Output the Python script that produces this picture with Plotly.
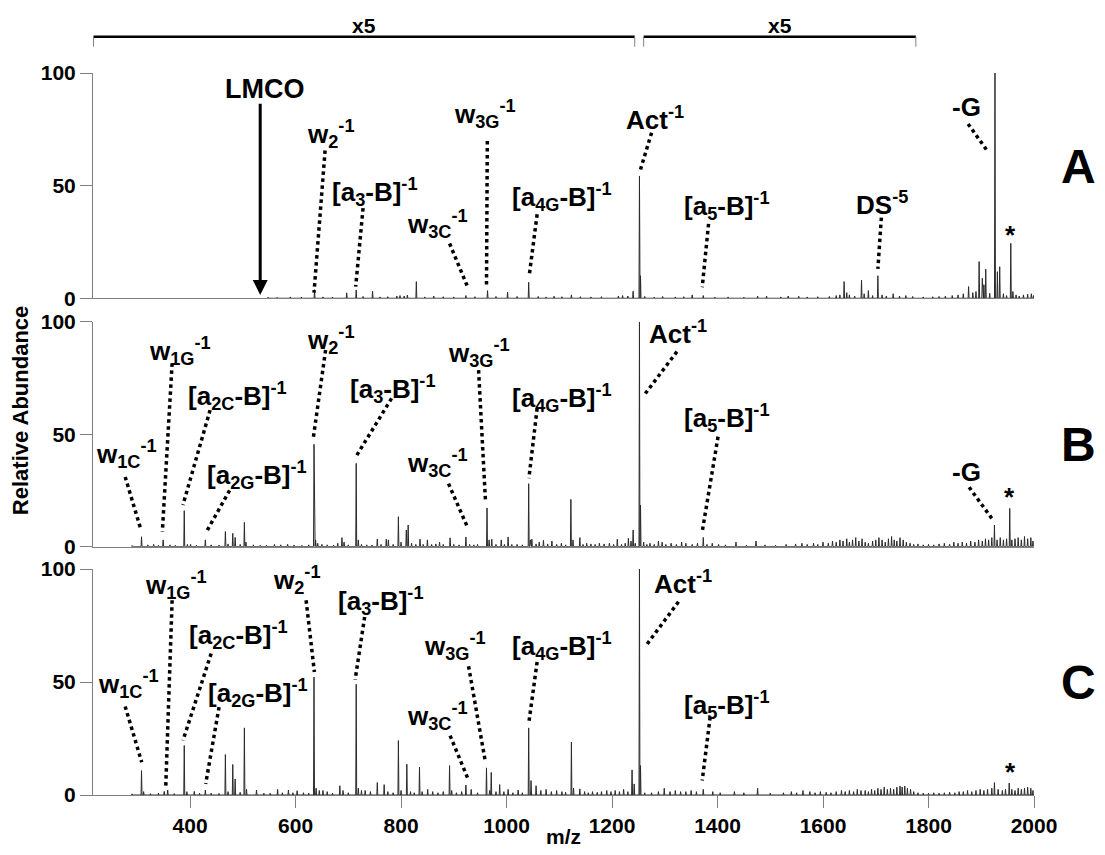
import plotly.graph_objects as go

# ---------------- data (m/z, relative abundance) ----------------
A_MZ = [548, 565, 590, 611, 636, 652, 670, 697, 715, 728, 746, 760, 775, 792, 798, 806, 812, 829, 845, 862,
        880, 900, 923, 940, 964, 980, 1002, 1020, 1042, 1060, 1075, 1090, 1105, 1123, 1140, 1160, 1180, 1212,
        1220, 1230, 1240, 1252, 1254, 1262, 1280, 1296, 1320, 1336, 1352, 1373, 1395, 1420, 1450, 1476, 1493,
        1520, 1534, 1554, 1570, 1590, 1612, 1625, 1632, 1640, 1645, 1650, 1660, 1673, 1678, 1686, 1694, 1704,
        1712, 1720, 1733, 1745, 1757, 1770, 1790, 1808, 1820, 1832, 1845, 1856, 1866, 1876, 1884, 1890, 1896,
        1902, 1905, 1908.5, 1916, 1926, 1930.6, 1935, 1942, 1948, 1956, 1960, 1966, 1972, 1980, 1988, 1995, 1999]
A_INT = [0.5, 0.4, 0.6, 0.5, 3.8, 0.6, 0.5, 2.4, 3.7, 0.8, 3.1, 0.6, 0.7, 1.0, 1.2, 1.0, 1.4, 7.4, 0.6, 1.0,
         0.7, 0.6, 1.2, 0.7, 3.4, 0.8, 2.7, 0.8, 7.1, 0.8, 0.6, 0.9, 0.7, 1.5, 0.7, 0.6, 0.7, 1.0,
         1.2, 1.0, 3.1, 54.3, 10.0, 0.8, 0.5, 0.8, 0.6, 0.7, 1.5, 1.2, 0.5, 0.6, 0.5, 1.0, 1.0,
         0.6, 1.0, 0.9, 0.6, 0.7, 0.8, 1.2, 1.5, 7.4, 2.5, 1.5, 1.0, 8.1, 2.0, 3.4, 1.2, 10.0,
         1.5, 1.0, 2.0, 1.0, 1.2, 0.8, 0.6, 0.7, 0.8, 1.0, 1.2, 1.5, 2.0, 5.2, 2.5, 3.0, 16.3,
         8.9, 6.0, 12.9, 2.2, 100.0, 11.8, 14.0, 2.0, 1.2, 24.4, 3.0, 1.5, 1.0, 1.5, 1.8, 2.0, 1.2]

B_MZ = [290, 308, 320, 331, 340, 349, 362, 372, 389, 395, 401, 412, 429, 440, 455, 467, 472, 481, 485.5, 495,
        503, 506, 520, 533, 545, 560, 572, 585, 597, 612, 625, 635, 638, 642, 650, 660, 672, 680, 688, 692,
        700, 715, 719, 725, 735, 745, 755, 762, 772, 776, 785, 795, 800, 810, 813.5, 820, 828, 836, 842, 850,
        858, 866, 873, 880, 893, 900, 910, 923, 930, 938, 945, 963, 967, 972, 980, 990, 996, 1003, 1010, 1020,
        1030, 1042, 1045, 1048, 1056, 1062, 1070, 1078, 1086, 1095, 1104, 1112, 1122, 1126, 1139, 1145, 1152,
        1160, 1168, 1176, 1185, 1195, 1203, 1210, 1218, 1225, 1231, 1236, 1240, 1244, 1252, 1254, 1260, 1266,
        1272, 1280, 1288, 1295, 1302, 1312, 1322, 1332, 1340, 1352, 1362, 1373, 1380, 1390, 1402, 1415, 1435,
        1455, 1473, 1490, 1510, 1530, 1548, 1560, 1570, 1582, 1590, 1600, 1610, 1618, 1625, 1632, 1638, 1645,
        1650, 1656, 1662, 1668, 1674, 1680, 1686, 1694, 1700, 1706, 1712, 1718, 1724, 1730, 1735, 1740, 1746,
        1752, 1758, 1765, 1772, 1780, 1790, 1800, 1810, 1820, 1830, 1840, 1848, 1856, 1864, 1872, 1880, 1888,
        1895, 1902, 1908, 1914, 1920, 1925, 1930, 1936, 1942, 1948, 1954, 1958, 1964, 1970, 1976, 1982, 1988,
        1994, 1998]
B_INT = [0.5, 4.4, 0.8, 1.0, 0.6, 3.0, 0.8, 0.6, 16.0, 1.0, 1.0, 0.6, 3.0, 0.8, 0.7, 6.7, 1.2, 5.9, 4.1, 1.0,
         10.8, 2.0, 0.8, 0.6, 0.7, 1.0, 0.8, 1.0, 0.7, 0.6, 0.8, 45.5, 3.0, 1.5, 1.0, 0.8, 0.7, 1.5, 4.0, 2.0,
         0.8, 37.0, 3.0, 1.0, 0.8, 0.7, 3.4, 1.0, 3.3, 3.0, 1.0, 13.3, 2.0, 7.4, 9.6, 1.5, 1.0, 3.3, 1.0, 3.0,
         1.0, 1.2, 2.0, 1.0, 3.9, 1.0, 0.8, 4.3, 1.0, 0.8, 1.0, 17.2, 3.0, 3.3, 1.0, 3.0, 1.0, 4.3, 1.0, 1.0,
         0.8, 28.0, 3.0, 3.3, 1.2, 2.0, 2.8, 1.2, 2.5, 1.0, 1.5, 0.8, 21.0, 3.0, 4.0, 1.0, 1.5,
         1.2, 1.0, 1.5, 1.2, 1.5, 1.0, 3.3, 1.0, 1.5, 3.7, 2.5, 7.4, 1.5, 100.0, 18.5, 2.0, 1.0,
         1.5, 1.0, 2.5, 2.0, 1.0, 1.5, 1.0, 2.0, 1.5, 1.0, 1.5, 4.1, 1.0, 1.5, 1.0, 0.8, 2.0,
         0.7, 2.5, 0.8, 0.6, 1.0, 1.2, 1.5, 1.0, 1.5, 1.0, 2.0, 1.5, 2.5, 2.0, 3.0, 2.5, 3.5,
         2.0, 3.0, 4.0, 2.5, 3.5, 2.0, 1.5, 2.5, 3.0, 4.0, 3.0, 2.0, 3.5, 4.5, 3.0, 2.5, 4.0,
         3.0, 2.0, 1.5, 1.0, 1.2, 0.8, 1.0, 0.8, 1.2, 1.5, 1.0, 2.0, 1.5, 2.0, 1.5, 2.5, 2.0,
         3.0, 2.5, 3.5, 3.0, 4.0, 9.6, 3.0, 4.0, 3.0, 3.5, 17.0, 3.0, 3.5, 4.0, 3.0, 4.5, 3.5,
         4.0, 2.5]

C_MZ = [290, 308, 312, 325, 340, 351, 357.6, 370, 389, 394, 408, 418, 429, 440, 455, 467, 472, 481, 485.5, 495,
        503, 507, 526, 540, 552, 566, 575, 586.5, 595, 603, 615, 625, 635, 639, 645, 652, 660, 670, 684, 690,
        700, 715, 719, 725, 732, 742, 755, 768, 775, 785, 795, 800, 811, 818, 825, 835, 840, 850.5, 860, 870,
        880, 892, 896, 905, 915, 923, 933, 945, 962, 968, 971, 980, 987, 995, 1003, 1012, 1022, 1030, 1042,
        1046.5, 1056, 1065, 1075, 1085, 1095, 1105, 1112, 1123, 1127, 1139, 1148, 1155, 1163, 1172, 1180, 1190,
        1198, 1206, 1214, 1222, 1230, 1238, 1242, 1252, 1254, 1262, 1275, 1288, 1299, 1310, 1320, 1330, 1340,
        1350, 1360, 1373, 1391, 1405, 1432, 1450, 1476, 1500, 1525, 1540, 1550, 1562, 1575, 1585, 1595, 1606,
        1615, 1625, 1635, 1642, 1650, 1658, 1665, 1672, 1680, 1686, 1692, 1698, 1704, 1710, 1716, 1722, 1728,
        1734, 1740, 1746, 1750, 1755, 1760, 1766, 1772, 1780, 1790, 1800, 1810, 1820, 1830, 1840, 1850, 1858,
        1866, 1874, 1882, 1890, 1898, 1905, 1912, 1920, 1925, 1932, 1940, 1946, 1953, 1958, 1964, 1970, 1976,
        1982, 1988, 1994, 1998]
C_INT = [0.5, 10.8, 1.5, 0.6, 0.8, 1.6, 2.2, 0.6, 21.9, 1.5, 1.6, 0.8, 2.2, 0.8, 0.7, 17.9, 1.5, 13.5, 7.1, 1.2,
         29.7, 2.5, 2.2, 0.8, 0.8, 2.5, 1.0, 2.2, 1.0, 1.9, 1.0, 0.8, 52.2, 3.0, 2.0, 2.0, 1.5, 0.8, 4.1, 2.0,
         1.0, 49.0, 3.0, 2.0, 2.0, 1.5, 5.5, 4.6, 1.5, 1.0, 24.1, 2.0, 13.6, 1.5, 1.0, 12.3, 1.5, 2.5, 1.5, 1.0,
         1.5, 13.0, 2.0, 1.0, 1.5, 4.4, 2.5, 1.0, 12.0, 2.0, 10.0, 1.5, 4.6, 1.5, 2.5, 1.0, 2.2, 1.0, 29.7,
         6.4, 4.1, 2.0, 2.5, 1.5, 2.0, 1.5, 1.2, 23.4, 3.0, 2.7, 1.5, 1.0, 1.5, 1.2, 1.5, 2.0,
         1.5, 2.0, 1.5, 2.5, 1.5, 11.1, 4.9, 100.0, 13.0, 1.0, 1.0, 1.5, 3.0, 1.5, 2.0, 1.5, 1.5,
         2.0, 1.5, 2.5, 1.5, 1.0, 1.5, 1.0, 3.0, 0.8, 1.0, 1.5, 1.0, 2.0, 1.5, 1.0, 1.5, 1.2,
         1.0, 1.5, 2.0, 1.5, 2.0, 1.5, 2.5, 2.0, 2.0, 1.5, 2.5, 2.0, 3.0, 2.5, 3.5, 2.5, 3.0,
         2.5, 3.5, 4.0, 3.5, 4.0, 3.0, 2.5, 1.5, 1.0, 0.8, 0.8, 1.0, 0.8, 1.0, 1.2, 1.0, 1.5,
         1.5, 2.0, 1.5, 2.0, 2.5, 2.0, 2.5, 3.0, 5.5, 2.5, 2.0, 2.5, 5.3, 2.5, 2.0, 3.0, 2.5,
         3.0, 3.5, 3.0, 2.0]

X_TICKS = [400, 600, 800, 1000, 1200, 1400, 1600, 1800, 2000]
Y_TICKS = [0, 50, 100]
X_RANGE = [216, 2000]
PANEL_NAMES = ["A", "B", "C"]

# ---------------- labels (text, text x, text y, line x0, y0, x1, y1) ----------------
W = lambda sub: "w<sub>%s</sub><sup>-1</sup>" % sub
AB = lambda sub: "[a<sub>%s</sub>-B]<sup>-1</sup>" % sub
ACT = "Act<sup>-1</sup>"

LABELS_A = [
    (W("2"), 667, 73, 656, 65.6, 635, 2.5),
    (AB("3"), 751, 47, 728, 40, 714, 5.2),
    (W("3C"), 869, 33, 892, 24.3, 927, 4.6),
    (W("3G"), 960, 82, 963.6, 69.8, 962, 5.6),
    (AB("4G"), 1106, 45, 1058, 37.3, 1043, 10),
    (ACT, 1282, 80, 1275, 73.5, 1254, 57.2),
    (AB("5"), 1418, 41, 1383, 33, 1371, 4.9),
    ("DS<sup>-5</sup>", 1712, 42, 1710.6, 35.8, 1704, 13),
    ("-G", 1872, 85, 1875, 77.4, 1911, 65.6),
    ("*", 1955, 28, None, None, None, None),
]
LABELS_B = [
    (W("1C"), 280, 41, 277, 31, 307, 7.4),
    (W("1G"), 381, 87, 366, 81.5, 347.5, 6.7),
    (AB("2C"), 489, 67, 438, 60.7, 386.5, 18.5),
    (AB("2G"), 526, 32, 475, 25, 429.6, 6),
    (W("2"), 667, 92, 657, 87.4, 634, 48.9),
    (AB("3"), 785, 70, 782, 65.9, 714.5, 40),
    (W("3C"), 869, 37, 890, 28, 927, 8.1),
    (W("3G"), 947, 86, 947, 78.5, 960, 20.7),
    (AB("4G"), 1106, 66, 1058, 61.5, 1042.4, 30.4),
    (ACT, 1326, 95, 1323, 86.7, 1261, 67.4),
    (AB("5"), 1418, 57, 1401, 48.9, 1371, 6.7),
    ("-G", 1872, 33, 1877, 26.4, 1922, 11.9),
    ("*", 1953, 22, None, None, None, None),
]
LABELS_C = [
    (W("1C"), 283, 49, 277, 39.2, 308.4, 14.5),
    (W("1G"), 374, 93, 366, 86.2, 354, 4.1),
    (AB("2C"), 492, 71, 440, 62.6, 386.5, 24.1),
    (AB("2G"), 529, 45, 455, 38.9, 429.6, 4.9),
    (W("2"), 603, 95, 620, 86.2, 635.7, 54.4),
    (AB("3"), 762, 86, 731, 78.8, 713, 51),
    (W("3C"), 869, 35, 893, 26.3, 927, 7.1),
    (W("3G"), 903, 66, 928, 57, 960, 14.5),
    (AB("4G"), 1106, 66, 1058, 58.9, 1042.4, 32.2),
    (ACT, 1335, 94, 1326, 85.5, 1265, 66.3),
    (AB("5"), 1418, 40, 1386, 34.5, 1371, 6.4),
    ("*", 1955, 10, None, None, None, None),
]

FONT = "Liberation Sans, Arial, sans-serif"
DOMAINS = [[0.688, 1.0], [0.344, 0.6555], [0.0, 0.313]]


def spikes(mz, inten, half=0.9):
    xs, ys = [], []
    for m, h in sorted(zip(mz, inten)):
        xs += [m - half, m, m + half]
        ys += [0, h, 0]
    return xs, ys


fig = go.Figure()
for i, (mz, it) in enumerate([(A_MZ, A_INT), (B_MZ, B_INT), (C_MZ, C_INT)]):
    xs, ys = spikes(mz, it)
    sfx = "" if i == 0 else str(i + 1)
    fig.add_trace(go.Scatter(x=xs, y=ys, mode="lines", line=dict(color="#2a2a2a", width=1),
                             xaxis="x" + sfx, yaxis="y" + sfx, showlegend=False, hoverinfo="skip"))

# page body has an 8px margin, so the figure is drawn from (8, 8) in the window
layout = dict(
    width=1089, height=839, autosize=False, paper_bgcolor="white", plot_bgcolor="white",
    margin=dict(l=85, r=63, t=65, b=52, pad=0), showlegend=False,
    font=dict(family=FONT, color="black"),
)
for i in range(3):
    sfx = "" if i == 0 else str(i + 1)
    last = i == 2
    layout["xaxis" + sfx] = dict(
        domain=[0, 1], anchor="y" + sfx, range=X_RANGE, showgrid=False, zeroline=False, automargin=False,
        showline=True, linecolor="#808080", linewidth=1,
        tickvals=X_TICKS if last else [], ticks="outside" if last else "",
        ticklen=12, tickcolor="#808080", showticklabels=last,
        tickfont=dict(size=21, family=FONT, weight="bold", color="black"),
    )
    layout["yaxis" + sfx] = dict(
        domain=DOMAINS[i], anchor="x" + sfx, range=[0, 100], showgrid=False, zeroline=False,
        automargin=False, showline=True, linecolor="#808080", linewidth=1, tickvals=Y_TICKS,
        ticks="outside", ticklen=12, tickcolor="#808080",
        tickfont=dict(size=21, family=FONT, weight="bold", color="black"),
    )
fig.update_layout(**layout)

annotations = []
shapes = []
for i, labels in enumerate([LABELS_A, LABELS_B, LABELS_C]):
    sfx = "" if i == 0 else str(i + 1)
    for text, tx, ty, x0, y0, x1, y1 in labels:
        annotations.append(dict(text="<b>%s</b>" % text, x=tx, y=ty, xref="x" + sfx, yref="y" + sfx,
                                showarrow=False, xanchor="center", yanchor="middle",
                                font=dict(size=26, family=FONT, color="black")))
        if x0 is not None:
            shapes.append(dict(type="line", x0=x0, y0=y0, x1=x1, y1=y1, xref="x" + sfx, yref="y" + sfx,
                               line=dict(color="black", width=3.5, dash="dot")))

# LMCO arrow
annotations.append(dict(text="<b>LMCO</b>", x=541, y=93, xref="x", yref="y", showarrow=False,
                        xanchor="center", yanchor="middle",
                        font=dict(size=27, family=FONT, color="black")))
annotations.append(dict(text="", x=533, y=1.5, ax=533, ay=87, xref="x", yref="y", axref="x", ayref="y",
                        showarrow=True, arrowhead=2, arrowsize=1, arrowwidth=3, arrowcolor="black"))

# panel letters
for name, py in zip(PANEL_NAMES, [0.870, 0.485, 0.156]):
    annotations.append(dict(text="<b>%s</b>" % name, x=1.0475, y=py, xref="paper", yref="paper",
                            xanchor="center", yanchor="middle",
                            showarrow=False, font=dict(size=48, family=FONT, color="black")))

# axis titles
annotations.append(dict(text="<b>Relative Abundance</b>", x=-0.0776, y=0.533, xref="paper", yref="paper",
                        xanchor="center", yanchor="middle",
                        showarrow=False, textangle=-90, font=dict(size=22, family=FONT, color="black")))
annotations.append(dict(text="<b>m/z</b>", x=0.5, y=-0.057, xref="paper", yref="paper",
                        xanchor="center", yanchor="middle",
                        showarrow=False, font=dict(size=21, family=FONT, color="black")))

# x5 brackets
for (b0, b1) in [(217, 1243), (1260, 1776)]:
    shapes.append(dict(type="line", x0=b0, x1=b1, y0=1.0503, y1=1.0503, xref="x", yref="paper",
                       line=dict(color="black", width=2.5)))
    for bx in (b0, b1):
        shapes.append(dict(type="line", x0=bx, x1=bx, y0=1.0503, y1=1.0364, xref="x", yref="paper",
                           line=dict(color="#808080", width=1)))
    annotations.append(dict(text="<b>x5</b>", x=(b0 + b1) / 2, y=1.066, xref="x", yref="paper",
                            xanchor="center", yanchor="middle",
                            showarrow=False, font=dict(size=21, family=FONT, color="black")))

fig.update_layout(annotations=annotations, shapes=shapes)
fig.write_html("out.html")
